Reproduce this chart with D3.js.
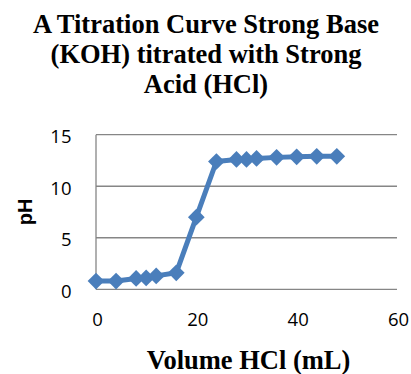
<!DOCTYPE html>
<html>
<head>
<meta charset="utf-8">
<script src="https://cdn.jsdelivr.net/npm/d3@7"></script>
<style>
  html, body { margin: 0; padding: 0; background: #fff; }
  svg { display: block; }
</style>
</head>
<body>
<svg id="chart" width="411" height="374"></svg>
<script>
const titleLines = ["A Titration Curve Strong Base", "(KOH) titrated with Strong", "Acid (HCl)"];
const xTitle = "Volume HCl (mL)";
const yTitle = "pH";
const volume = [0, 4, 8, 10, 12, 16, 20, 24, 28, 30, 32, 36, 40, 44, 48];
const pH = [0.8, 0.8, 1.05, 1.1, 1.3, 1.6, 7.0, 12.4, 12.6, 12.6, 12.7, 12.8, 12.85, 12.9, 12.9];
const xTicks = [0, 20, 40, 60];
const yTicks = [0, 5, 10, 15];

const svg = d3.select("#chart");
const plotLeft = 96, plotRight = 397, plotTop = 134.7, plotBottom = 289.3;

const x = d3.scaleLinear().domain([0, 60]).range([plotLeft, plotRight]);
const y = d3.scaleLinear().domain([0, 15]).range([plotBottom, plotTop]);

// title
svg.append("g").selectAll("text").data(titleLines).join("text")
  .attr("x", 206)
  .attr("y", (d, i) => 33.3 + i * 30)
  .attr("text-anchor", "middle")
  .attr("font-family", "'Liberation Serif', 'Times New Roman', serif")
  .attr("font-weight", "bold")
  .attr("font-size", 26.5)
  .attr("fill", "#000")
  .text(d => d);

// gridlines
svg.append("g").selectAll("line").data(yTicks).join("line")
  .attr("x1", plotLeft).attr("x2", plotRight)
  .attr("y1", d => y(d)).attr("y2", d => y(d))
  .attr("stroke", "#868686").attr("stroke-width", 1.3);

// left axis line
svg.append("line")
  .attr("x1", plotLeft).attr("x2", plotLeft)
  .attr("y1", plotTop).attr("y2", plotBottom)
  .attr("stroke", "#868686").attr("stroke-width", 1.3);

// y tick labels
svg.append("g").selectAll("text").data(yTicks).join("text")
  .attr("x", 71.5)
  .attr("y", d => y(d) + 8.5)
  .attr("text-anchor", "end")
  .attr("font-family", "'Open Sans', 'Liberation Sans', sans-serif")
  .attr("font-size", 18.5)
  .attr("fill", "#000")
  .text(d => d);

// x tick labels
svg.append("g").selectAll("text").data(xTicks).join("text")
  .attr("x", d => x(d) + 1.5)
  .attr("y", 326.3)
  .attr("text-anchor", "middle")
  .attr("font-family", "'Open Sans', 'Liberation Sans', sans-serif")
  .attr("font-size", 18.5)
  .attr("fill", "#000")
  .text(d => d);

// axis titles
svg.append("text")
  .attr("x", 248.5)
  .attr("y", 369.3)
  .attr("text-anchor", "middle")
  .attr("font-family", "'Liberation Serif', 'Times New Roman', serif")
  .attr("font-weight", "bold")
  .attr("font-size", 26.5)
  .attr("fill", "#000")
  .text(xTitle);

svg.append("text")
  .attr("transform", "translate(31.5,212) rotate(-90)")
  .attr("text-anchor", "middle")
  .attr("font-family", "'Liberation Sans', Arial, sans-serif")
  .attr("font-weight", "bold")
  .attr("font-size", 20)
  .attr("fill", "#000")
  .text(yTitle);

// data
const data = volume.map((v, i) => ({ v, p: pH[i] }));
const color = "#4A7EBB";

svg.append("path")
  .datum(data)
  .attr("fill", "none")
  .attr("stroke", color)
  .attr("stroke-width", 5)
  .attr("stroke-linejoin", "round")
  .attr("d", d3.line().x(d => x(d.v)).y(d => y(d.p)));

const sym = d3.symbol().type(d3.symbolSquare).size(140);
svg.append("g").selectAll("path").data(data).join("path")
  .attr("d", sym)
  .attr("transform", d => `translate(${x(d.v)},${y(d.p)}) rotate(45)`)
  .attr("fill", color);
</script>
</body>
</html>
